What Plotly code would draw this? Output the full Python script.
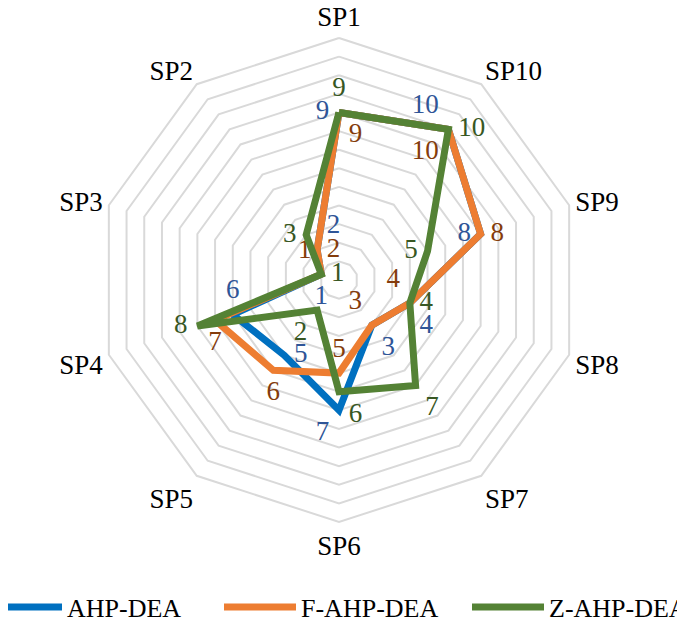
import plotly.graph_objects as go

categories = ["SP1", "SP2", "SP3", "SP4", "SP5", "SP6", "SP7", "SP8", "SP9", "SP10"]
ahp_dea = [9, 2, 1, 6, 5, 7, 3, 4, 8, 10]
f_ahp_dea = [9, 2, 1, 7, 6, 5, 3, 4, 8, 10]
z_ahp_dea = [9, 3, 1, 8, 2, 6, 7, 4, 5, 10]

ahp_pos = ["middle left", "top right", "bottom center", "top center", "middle right",
           "bottom left", "bottom right", "bottom right", "middle left", "top left"]
f_pos = ["bottom right", "middle right", "top left", "bottom center", "bottom center",
         "top center", "top left", "top left", "middle right", "bottom left"]
z_pos = ["top center", "middle left", "middle right", "middle left", "bottom left",
         "bottom right", "bottom right", "middle right", "middle left", "middle right"]

FONT = "Liberation Serif"

series = [
    ("AHP-DEA", ahp_dea, ahp_pos, "#0070C0", "#2F5597", "legend"),
    ("F-AHP-DEA", f_ahp_dea, f_pos, "#ED7D31", "#843C0C", "legend2"),
    ("Z-AHP-DEA", z_ahp_dea, z_pos, "#548235", "#385723", "legend3"),
]

fig = go.Figure()
for name, vals, pos, lc, tc, lg in series:
    fig.add_trace(go.Scatterpolar(
        r=vals + vals[:1],
        theta=categories + categories[:1],
        mode="lines+markers+text",
        name=name,
        legend=lg,
        text=[str(v) for v in vals] + [""],
        textposition=pos + [pos[0]],
        textfont=dict(family=FONT, size=27, color=tc),
        line=dict(color=lc, width=7),
        marker=dict(size=14, color="rgba(0,0,0,0)"),
        cliponaxis=False,
    ))

# page body has an 8px default margin, so figure coords = screen coords - 8
cx, cy, R = 331, 272, 242
W, H = 685, 617
legend_common = dict(orientation="h", yanchor="middle", y=(H - 599) / H, xanchor="left",
                     itemwidth=72, font=dict(family=FONT, size=26, color="black"),
                     bgcolor="rgba(0,0,0,0)")
fig.update_layout(
    width=W, height=H,
    margin=dict(l=0, r=0, t=0, b=0, autoexpand=False),
    paper_bgcolor="white",
    font=dict(family=FONT, size=27, color="black"),
    polar=dict(
        domain=dict(x=[(cx - R) / W, (cx + R) / W],
                    y=[(H - cy - R) / H, (H - cy + R) / H]),
        bgcolor="white",
        gridshape="linear",
        radialaxis=dict(range=[0, 13], dtick=1, showticklabels=False, ticks="",
                        showline=False, gridcolor="#D9D9D9", gridwidth=2),
        angularaxis=dict(direction="counterclockwise", rotation=90, showgrid=False,
                         linecolor="#D9D9D9", linewidth=2, ticks="",
                         tickfont=dict(family=FONT, size=27, color="black")),
    ),
    legend=dict(legend_common, x=-23 / W),
    legend2=dict(legend_common, x=211 / W),
    legend3=dict(legend_common, x=459 / W),
    showlegend=True,
)

fig.write_html("out.html")
